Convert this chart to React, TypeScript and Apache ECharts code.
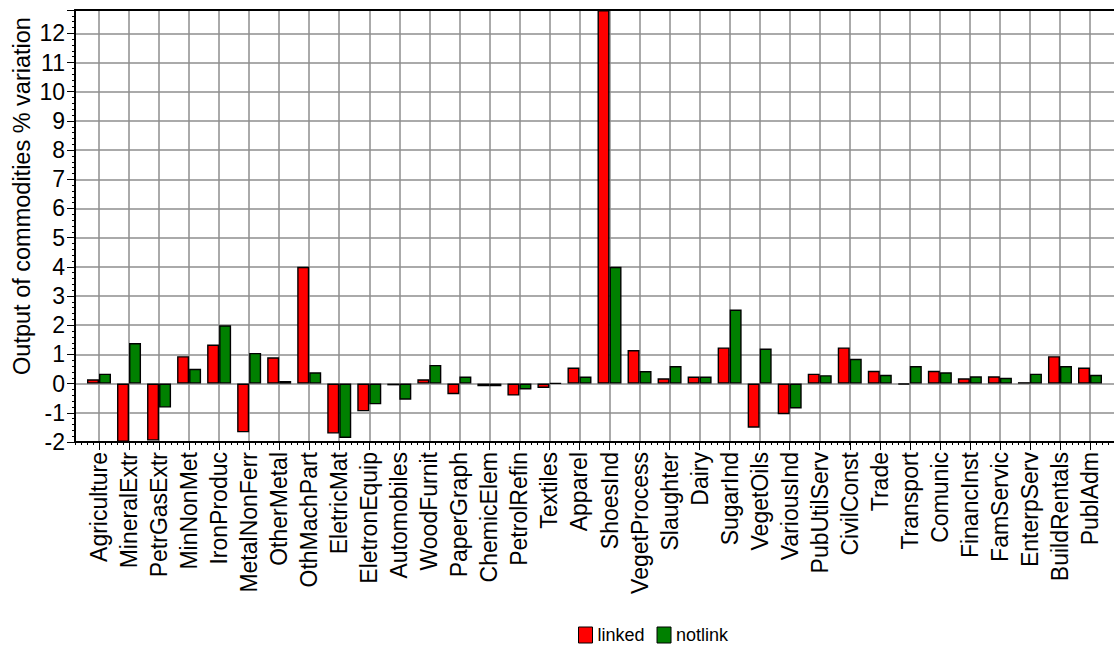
import React, { useEffect, useRef } from "react";
import * as echarts from "echarts";

const FONT = "'Liberation Sans', Arial, Helvetica, sans-serif";

const categories = [
  "Agriculture", "MineralExtr", "PetrGasExtr", "MinNonMet", "IronProduc", "MetalNonFerr",
  "OtherMetal", "OthMachPart", "EletricMat", "EletronEquip", "Automobiles", "WoodFurnit",
  "PaperGraph", "ChemicElem", "PetrolRefin", "Textiles", "Apparel", "ShoesInd",
  "VegetProcess", "Slaughter", "Dairy", "SugarInd", "VegetOils", "VariousInd",
  "PubUtilServ", "CivilConst", "Trade", "Transport", "Comunic", "FinancInst",
  "FamServic", "EnterpServ", "BuildRentals", "PublAdm",
];

const linked = [
  0.15, -2.0, -1.95, 0.94, 1.34, -1.67, 0.9, 4.0, -1.71, -0.95, -0.06, 0.15,
  -0.36, -0.09, -0.41, -0.15, 0.55, 12.8, 1.15, 0.18, 0.24, 1.24, -1.51, -1.05,
  0.34, 1.24, 0.44, -0.03, 0.44, 0.18, 0.25, 0.05, 0.94, 0.55,
];

const notlink = [
  0.34, 1.39, -0.82, 0.51, 2.0, 1.05, 0.09, 0.39, -1.86, -0.71, -0.55, 0.64,
  0.24, -0.09, -0.2, 0.02, 0.24, 4.0, 0.43, 0.6, 0.24, 2.54, 1.2, -0.85,
  0.29, 0.85, 0.3, 0.6, 0.39, 0.25, 0.2, 0.34, 0.6, 0.3,
];

const seriesNames = ["linked", "notlink"];
const yTitle = "Output of commodities % variation";

const Y_MIN = -2;
const Y_MAX = 12.8;
const GRID_COLOR = "#8e8e8e";

export default function App() {
  const ref = useRef<HTMLDivElement>(null);

  useEffect(() => {
    if (!ref.current) return;
    const chart = echarts.init(ref.current, null, { renderer: "svg" });
    const option: any = {
      animation: false,
      backgroundColor: "#ffffff",
      textStyle: { fontFamily: FONT, color: "#000" },
      grid: [
        { left: 75, right: 0, top: 10, bottom: 203 },
        { left: 99, right: 24, top: 10, bottom: 203 },
      ],
      xAxis: [
        {
          gridIndex: 0,
          type: "value",
          min: -0.8,
          max: 33.8,
          interval: 0.2,
          axisLine: { show: true, onZero: false, lineStyle: { color: "#000", width: 2 } },
          axisTick: { show: true, length: 3, lineStyle: { color: "#000", width: 1 } },
          axisLabel: { show: false },
          splitLine: { show: false },
        },
        {
          gridIndex: 0,
          type: "value",
          position: "top",
          min: -0.8,
          max: 33.8,
          axisLine: { show: true, onZero: false, lineStyle: { color: "#000", width: 2 } },
          axisTick: { show: false },
          axisLabel: { show: false },
          splitLine: { show: false },
        },
        {
          gridIndex: 1,
          type: "category",
          data: categories,
          boundaryGap: false,
          axisLine: { show: false, onZero: false },
          axisTick: { show: true, interval: 0, length: 8, lineStyle: { color: "#000", width: 1 } },
          axisLabel: {
            interval: 0,
            rotate: 90,
            fontSize: 23,
            color: "#000",
            margin: 10,
            fontFamily: FONT,
          },
          splitLine: { show: true, interval: 0, lineStyle: { color: GRID_COLOR, width: 1.5 } },
        },
      ],
      yAxis: [
        {
          gridIndex: 0,
          type: "value",
          min: Y_MIN,
          max: Y_MAX,
          interval: 1,
          axisLine: { show: true, onZero: false, lineStyle: { color: "#000", width: 2 } },
          axisTick: { show: true, length: 8, lineStyle: { color: "#000", width: 1 } },
          minorTick: { show: true, splitNumber: 5, length: 3, lineStyle: { color: "#000", width: 1 } },
          axisLabel: {
            fontSize: 23,
            color: "#000",
            margin: 10,
            showMaxLabel: false,
            fontFamily: FONT,
          },
          splitLine: { show: true, lineStyle: { color: GRID_COLOR, width: 1.5 } },
        },
        {
          gridIndex: 1,
          type: "value",
          min: Y_MIN,
          max: Y_MAX,
          interval: 1,
          show: false,
          splitLine: { show: false },
        },
      ],
      legend: {
        left: 578,
        top: 626,
        padding: 0,
        icon: "rect",
        itemWidth: 14,
        itemHeight: 16,
        itemGap: 12,
        textStyle: { fontSize: 18, color: "#000", fontFamily: FONT },
        itemStyle: { borderColor: "#000", borderWidth: 1 },
        data: seriesNames,
      },
      graphic: [
        {
          type: "text",
          x: 22,
          y: 196,
          rotation: Math.PI / 2,
          style: {
            text: yTitle,
            fontSize: 23.5,
            fontFamily: FONT,
            fill: "#000",
            align: "center",
            verticalAlign: "middle",
            textAlign: "center",
            textVerticalAlign: "middle",
          },
        },
      ],
      series: [
        {
          type: "bar",
          name: seriesNames[0],
          xAxisIndex: 2,
          yAxisIndex: 1,
          data: linked,
          barWidth: 12,
          barGap: "0%",
          clip: false,
          itemStyle: { color: "#ff0000", borderColor: "#000", borderWidth: 1.4 },
        },
        {
          type: "bar",
          name: seriesNames[1],
          xAxisIndex: 2,
          yAxisIndex: 1,
          data: notlink,
          barWidth: 12,
          barGap: "0%",
          clip: false,
          itemStyle: { color: "#008000", borderColor: "#000", borderWidth: 1.4 },
        },
      ],
    };
    chart.setOption(option);
    return () => chart.dispose();
  }, []);

  return (
    <div
      ref={ref}
      style={{ position: "absolute", left: 0, top: 0, width: 1114, height: 645, background: "#fff" }}
    />
  );
}
